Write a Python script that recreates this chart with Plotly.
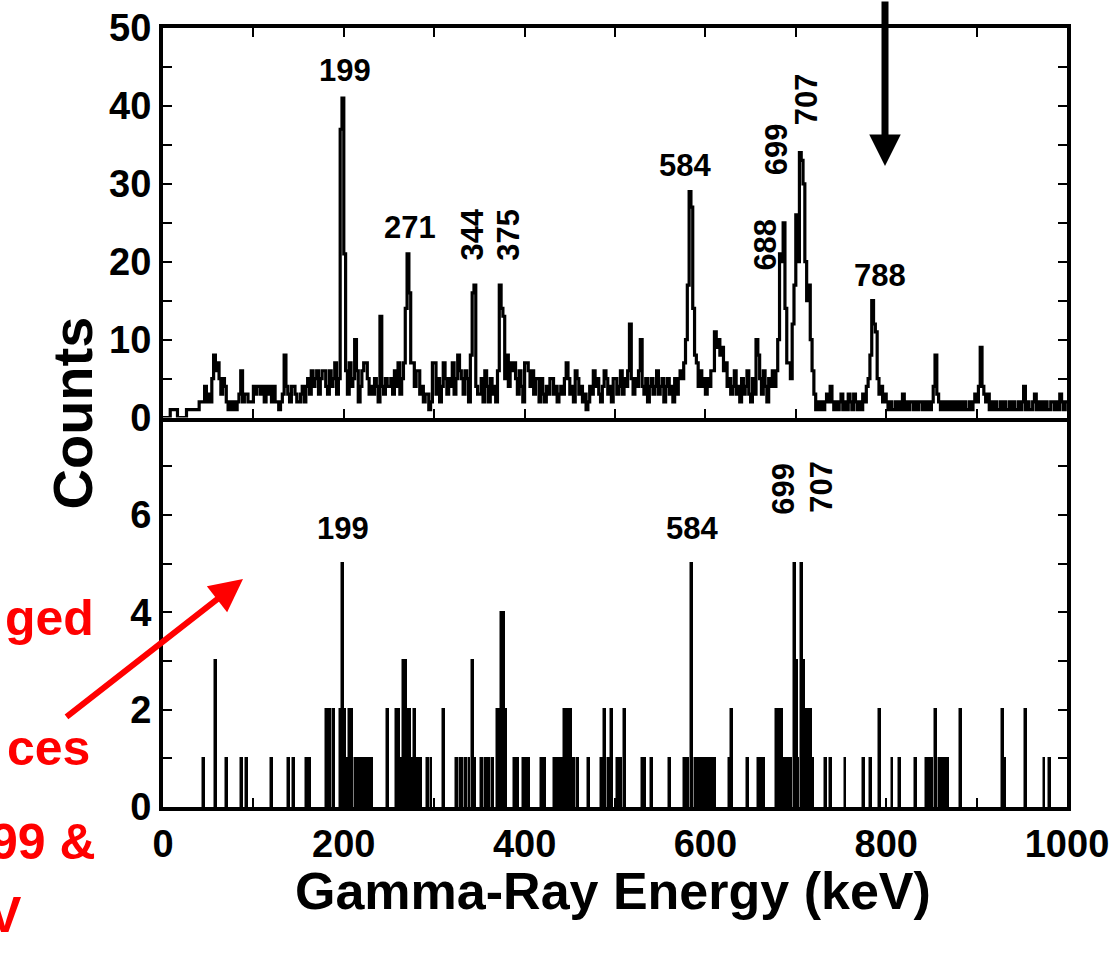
import plotly.graph_objects as go
from plotly.subplots import make_subplots

BIN = 2  # keV per channel
# Top panel: counts per 2-keV channel, rows of 50 keV (start energy in comment)
top_counts = (
    [0,0,0,0,1,1,1,1,0,0,0,0,0,1,1,1,1,1,1,1,2,2,2,4,2]          # 0
    + [3,2,5,8,6,7,5,3,5,4,2,1,2,1,2,1,2,3,6,2,3,3,2,2,2]        # 50
    + [4,3,4,4,3,4,2,4,3,4,2,4,2,2,1,2,3,8,4,3,2,4,4,3,2]        # 100
    + [2,3,4,2,4,5,3,6,4,5,6,3,5,6,6,4,3,6,4,5,7,3,5,37,41]      # 150
    + [21,6,3,7,4,5,10,6,2,4,6,7,7,5,3,4,3,5,4,2,13,4,3,5,4]     # 200
    + [4,5,3,6,4,7,3,5,7,14,21,16,7,7,4,6,6,3,4,2,3,3,1,2,7]     # 250
    + [7,3,5,2,4,7,5,3,5,4,7,3,5,8,6,5,3,6,5,2,8,16,17,4,3]      # 300
    + [3,5,2,6,4,2,5,3,4,2,6,17,14,13,5,8,4,7,6,7,5,3,6,4,2]     # 350
    + [7,7,6,4,6,3,5,5,2,5,3,2,4,3,5,5,3,4,2,3,4,3,5,7,5]        # 400
    + [3,4,2,6,5,3,4,2,3,1,2,4,3,6,4,5,3,2,4,6,5,3,4,2,5]        # 450
    + [5,3,4,6,3,5,4,6,12,5,3,5,4,6,10,4,3,5,2,4,5,3,4,6,3]      # 500
    + [4,5,2,4,5,3,4,2,5,3,5,6,5,7,10,17,29,27,14,8,7,4,6,4,5]   # 550
    + [3,5,4,6,6,11,9,10,8,9,6,7,4,5,3,4,6,3,4,2,5,3,4,6,3]      # 600
    + [2,5,3,10,8,5,3,6,4,2,5,4,6,4,6,10,21,20,25,14,7,7,5,12,17] # 650
    + [26,20,34,33,30,20,15,17,10,6,3,1,2,1,2,1,2,3,2,4,2,1,2,1,2] # 700
    + [3,1,2,1,3,2,1,3,2,1,2,1,3,2,4,5,8,15,12,11,5,3,4,2,3]     # 750
    + [2,1,2,1,1,2,1,2,1,3,1,2,1,2,2,1,2,1,2,2,1,2,1,2,1]        # 800
    + [2,4,8,3,2,1,2,1,2,1,2,1,2,1,2,1,2,1,2,1,1,2,1,2,3]        # 850
    + [2,4,9,4,3,2,3,1,2,1,2,1,1,2,1,2,1,1,2,1,2,1,1,2,1]        # 900
    + [2,4,1,2,1,1,2,3,1,2,1,2,1,2,1,1,2,2,1,2,1,3,2,1,2]        # 950
)

# Bottom panel: sparse spectrum, channel energy (keV) -> counts
bot_energy = [44, 58, 70, 86, 92, 120, 138, 144, 158, 162, 180, 184, 188, 196, 198, 200,
              204, 206, 208, 212, 214, 216, 218, 220, 222, 224, 226, 228, 230, 248, 258, 260,
              262, 266, 268, 270, 272, 274, 276, 278, 280, 282, 284, 292, 296, 310, 324, 328,
              330, 334, 338, 342, 344, 352, 356, 360, 364, 370, 372, 374, 376, 378, 388, 392,
              398, 402, 404, 418, 422, 432, 434, 436, 438, 440, 444, 446, 448, 450, 452, 454,
              458, 470, 484, 486, 488, 492, 496, 502, 504, 506, 510, 530, 532, 540, 560, 576,
              578, 580, 584, 588, 590, 592, 594, 596, 598, 600, 602, 604, 606, 608, 610, 626,
              628, 646, 658, 660, 662, 664, 678, 680, 682, 684, 686, 688, 690, 692, 694, 698,
              700, 702, 706, 708, 710, 712, 714, 716, 718, 732, 738, 754, 774, 782, 792, 806,
              814, 832, 844, 846, 848, 850, 854, 858, 860, 862, 864, 866, 868, 882, 928, 930,
              954, 974, 980]
bot_values = [1, 3, 1, 1, 1, 1, 1, 1, 1, 1, 2, 2, 2, 2, 5, 2,
              1, 2, 2, 1, 1, 1, 1, 1, 1, 1, 1, 1, 1, 2, 2, 2,
              1, 3, 3, 2, 2, 1, 1, 2, 1, 1, 1, 1, 1, 2, 1, 1,
              1, 1, 1, 3, 1, 1, 1, 1, 1, 2, 2, 4, 4, 2, 1, 1,
              1, 1, 1, 1, 1, 1, 1, 1, 1, 1, 2, 2, 2, 2, 1, 1,
              1, 1, 1, 1, 2, 1, 2, 1, 1, 1, 2, 1, 1, 1, 1, 1,
              1, 1, 5, 1, 1, 1, 1, 1, 1, 1, 1, 1, 1, 1, 1, 1,
              2, 1, 1, 1, 1, 1, 2, 2, 2, 2, 1, 1, 1, 1, 1, 5,
              3, 1, 5, 3, 2, 2, 2, 2, 1, 1, 1, 1, 1, 1, 2, 1,
              1, 1, 1, 1, 1, 1, 2, 1, 1, 1, 1, 1, 1, 2, 2, 1,
              2, 1, 1]

top_labels = ["199", "271", "344", "375", "584", "688", "699", "707", "788"]
top_label_x = [201, 273, 342, 382, 577, 666, 679, 712, 793]
top_label_y = [44.5, 24.4, 23.5, 23.5, 32.3, 22.2, 34.4, 40.8, 18.2]
top_label_rot = [0, 0, -90, -90, 0, -90, -90, -90, 0]

bot_labels = ["199", "584", "699", "707"]
bot_label_x = [199, 585, 687, 729]
bot_label_y = [5.71, 5.71, 6.54, 6.58]
bot_label_rot = [0, 0, -90, -90]

n_ch = len(top_counts)
edges = [i * BIN for i in range(n_ch + 1)]

FONT = "Liberation Sans, Arial, sans-serif"

fig = make_subplots(rows=2, cols=1, shared_xaxes=True, vertical_spacing=0)
fig.add_trace(go.Scatter(x=edges, y=top_counts + [top_counts[-1]], mode="lines",
                         line=dict(shape="hv", color="black", width=3.2),
                         showlegend=False), row=1, col=1)
fig.add_trace(go.Bar(x=[e + BIN / 2 for e in bot_energy], y=bot_values, width=BIN,
                     marker=dict(color="black", line=dict(color="black", width=1.5)),
                     showlegend=False), row=2, col=1)

axcommon = dict(showline=True, linewidth=4, linecolor="black",
                ticks="inside", ticklen=9, tickwidth=2, tickcolor="black",
                showgrid=False, zeroline=False, automargin=False)
tickfont = dict(family=FONT, size=38, color="black", weight="bold")

xt = list(range(0, 1001, 100))
xtext = [str(v) if v % 200 == 0 else "" for v in xt]
fig.update_xaxes(range=[0, 1000], tickvals=xt, ticktext=xtext, tickfont=tickfont, **axcommon)
fig.update_xaxes(showticklabels=False, mirror="ticks", row=1, col=1)
fig.update_xaxes(mirror=False, row=2, col=1)

yt1 = list(range(0, 51, 5))
fig.update_yaxes(range=[0, 50], tickvals=yt1, mirror="ticks",
                 ticktext=[str(v) if v % 10 == 0 else "" for v in yt1],
                 tickfont=tickfont, row=1, col=1, **axcommon)
yt2 = list(range(0, 9))
fig.update_yaxes(range=[0, 8], tickvals=yt2, mirror="ticks",
                 ticktext=[str(v) if v % 2 == 0 and v < 8 else "" for v in yt2],
                 tickfont=tickfont, row=2, col=1, **axcommon)

ann = []
pfont = dict(family=FONT, size=31, color="black", weight="bold")
for t, x, y, r in zip(top_labels, top_label_x, top_label_y, top_label_rot):
    ann.append(dict(text=t, x=x, y=y, xref="x", yref="y", showarrow=False,
                    textangle=r, font=pfont))
for t, x, y, r in zip(bot_labels, bot_label_x, bot_label_y, bot_label_rot):
    ann.append(dict(text=t, x=x, y=y, xref="x2", yref="y2", showarrow=False,
                    textangle=r, font=pfont))

W0, W1, H0, H1 = 163, 1067, 28, 807
def px(xp):
    return (xp - W0) / (W1 - W0)
def py(yp):
    return (H1 - yp) / (H1 - H0)

# axis titles
ann.append(dict(text="Counts", x=px(38), y=py(413), xref="paper", yref="paper",
                showarrow=False, textangle=-90,
                font=dict(family=FONT, size=56, color="black", weight="bold")))
ann.append(dict(text="Gamma-Ray Energy (keV)", x=px(613), y=py(922), xref="paper", yref="paper",
                showarrow=False,
                font=dict(family=FONT, size=52, color="black", weight="bold")))

# red side notes (partially cut off at left edge, as in the reference)
rfont = dict(family=FONT, size=50, color="red", weight="bold")
for txt, xr, yc in [("ged", 96, 618), ("ces", 92, 748), ("99 &", 98, 842), ("V", 24, 915)]:
    ann.append(dict(text=txt, x=px(xr), y=py(yc), xref="paper", yref="paper",
                    xanchor="right", yanchor="middle", showarrow=False, font=rfont))

# red arrow
ann.append(dict(text="", x=px(243), y=py(579), xref="paper", yref="paper",
                ax=65 - 243, ay=718 - 579, showarrow=True, arrowhead=2,
                arrowsize=1.1, arrowwidth=6, arrowcolor="red"))
# black arrow
ann.append(dict(text="", x=px(885), y=py(166), xref="paper", yref="paper",
                ax=0, ay=-175, showarrow=True, arrowhead=2,
                arrowsize=0.9, arrowwidth=7, arrowcolor="black"))

fig.update_layout(width=1111, height=956, margin=dict(l=W0, r=1111 - W1, t=H0, b=956 - H1),
                  plot_bgcolor="white", paper_bgcolor="white", annotations=ann,
                  bargap=0)

fig.write_html("out.html")
